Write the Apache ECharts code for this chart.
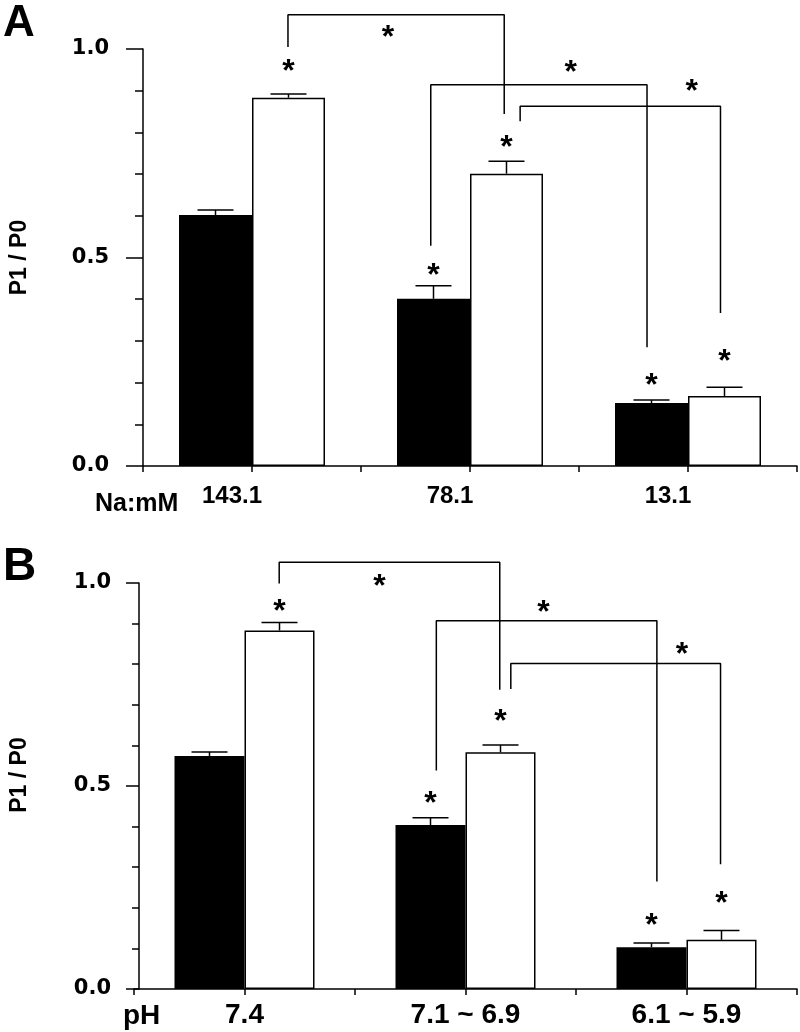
<!DOCTYPE html>
<html><head><meta charset="utf-8">
<script src="https://cdn.jsdelivr.net/npm/echarts@6/dist/echarts.min.js"></script>
<style>html,body{margin:0;padding:0;background:#fff}#c{width:800px;height:1032px}</style>
</head><body><div id="c"></div>
<script>
// ---------- data ----------
const catsA = ['143.1', '78.1', '13.1'];
const catsB = ['7.4', '7.1 ~ 6.9', '6.1 ~ 5.9'];
const xTitleA = 'Na:mM';
const xTitleB = 'pH';
const yTitle = 'P1 / P0';
const yTickLabels = ['0.0', '0.5', '1.0'];

const blackA = [0.602, 0.401, 0.151];
const blackErrA = [0.012, 0.031, 0.007];
const whiteA = [0.883, 0.701, 0.168];
const whiteErrA = [0.009, 0.030, 0.021];
const starBlackA = [null, 0.477, 0.213];
const starWhiteA = [0.964, 0.784, 0.269];

const blackB = [0.574, 0.404, 0.103];
const blackErrB = [0.010, 0.018, 0.010];
const whiteB = [0.883, 0.583, 0.121];
const whiteErrB = [0.020, 0.018, 0.023];
const starBlackB = [null, 0.476, 0.175];
const starWhiteB = [0.949, 0.678, 0.229];

// significance brackets: points in (category position, P1/P0)
const bracketsA = [
  [[0.665, 1.005], [0.665, 1.082], [1.657, 1.082], [1.657, 0.844]],
  [[1.320, 0.528], [1.320, 0.914], [2.312, 0.914], [2.312, 0.285]],
  [[1.730, 0.827], [1.730, 0.863], [2.649, 0.863], [2.649, 0.367]]
];
const bracketStarsA = [[1.124, 1.046], [1.962, 0.962], [2.517, 0.918]];
const bracketsB = [
  [[0.657, 0.999], [0.657, 1.051], [1.655, 1.051], [1.655, 0.737]],
  [[1.368, 0.538], [1.368, 0.907], [2.366, 0.907], [2.366, 0.265]],
  [[1.705, 0.739], [1.705, 0.802], [2.654, 0.802], [2.654, 0.307]]
];
const bracketStarsB = [[1.111, 1.011], [1.853, 0.947], [2.479, 0.843]];

// ---------- build ----------
const INK = '#000';
const LW = 1.5;
const STAR_SIZE = 32;
const STAR_FONT = 'bold ' + STAR_SIZE + 'px "Liberation Sans"';
const STAR_SHIFT = 0.27 * STAR_SIZE;

function panel(i, d, p) {
  const grid = { left: p.left, top: p.top, width: p.width, height: p.height };
  const xAxis = {
    gridIndex: i, type: 'value', min: 0, max: 3, interval: 0.5,
    axisLine: { show: true, onZero: false, lineStyle: { color: INK, width: LW } },
    axisTick: { show: true, length: 6, lineStyle: { color: INK, width: LW } },
    splitLine: { show: false },
    axisLabel: {
      formatter: v => { const k = v - 0.5; return Number.isInteger(k) && d.cats[k] ? d.cats[k] : ''; },
      fontFamily: 'Liberation Sans', fontWeight: 'bold', fontSize: p.catSize, color: INK,
      margin: p.catMargin, padding: p.catPad, hideOverlap: false, showMinLabel: true, showMaxLabel: true
    }
  };
  const yAxis = {
    gridIndex: i, type: 'value', min: 0, max: 1, interval: 0.5, offset: p.yOffset,
    axisLine: { show: true, lineStyle: { color: INK, width: LW } },
    axisTick: { show: true, length: p.majorLen, lineStyle: { color: INK, width: LW } },
    minorTick: { show: true, splitNumber: 5, length: p.minorLen, lineStyle: { color: INK, width: LW } },
    splitLine: { show: false }, minorSplitLine: { show: false },
    axisLabel: {
      formatter: v => yTickLabels[Math.round(v * 2)],
      fontFamily: 'DejaVu Sans', fontWeight: 'bold', fontSize: 21, color: INK,
      margin: p.labelMargin, padding: p.labelPad
    },
    name: yTitle, nameLocation: 'middle', nameRotate: 90, nameGap: p.nameGap,
    nameMoveOverlap: false,
    nameTextStyle: { fontFamily: 'Liberation Sans', fontWeight: 'bold', fontSize: 23, color: INK, padding: p.namePad }
  };
  const ax = { xAxisIndex: i, yAxisIndex: i };
  const bw = p.barWidth;
  const series = [];
  series.push(Object.assign({
    type: 'bar', data: d.black.map((v, k) => [k + 0.5, v]), barWidth: bw, barGap: '0%',
    itemStyle: { color: INK }, silent: true, z: 2
  }, ax));
  series.push(Object.assign({
    type: 'bar', data: d.white.map((v, k) => [k + 0.5, v]), barWidth: bw, barGap: '0%',
    itemStyle: { color: '#fff', borderColor: INK, borderWidth: LW }, silent: true, z: 2
  }, ax));
  function errBars(vals, errs, side) {
    return Object.assign({
      type: 'custom', silent: true, z: 3,
      data: vals.map((v, k) => [k + 0.5, v, errs[k]]),
      encode: { x: 0, y: 1 },
      renderItem: (params, api) => {
        const x = api.value(0), v = api.value(1), e = api.value(2);
        const b = api.coord([x, v]), t = api.coord([x, v + e]);
        const cx = b[0] + side * bw / 2;
        return { type: 'group', children: [
          { type: 'line', shape: { x1: cx, y1: b[1], x2: cx, y2: t[1] }, style: { stroke: INK, lineWidth: LW } },
          { type: 'line', shape: { x1: cx - 18, y1: t[1], x2: cx + 18, y2: t[1] }, style: { stroke: INK, lineWidth: LW } }
        ] };
      }
    }, ax);
  }
  series.push(errBars(d.black, d.blackErr, -1));
  series.push(errBars(d.white, d.whiteErr, 1));
  function stars(data, side) {
    return Object.assign({
      type: 'custom', silent: true, z: 4,
      data: data, encode: { x: 0, y: 1 },
      renderItem: (params, api) => {
        const c = api.coord([api.value(0), api.value(1)]);
        return { type: 'text', x: c[0] + side * bw / 2, y: c[1] + STAR_SHIFT,
          style: { text: '*', font: STAR_FONT, fill: INK, align: 'center', verticalAlign: 'middle' } };
      }
    }, ax);
  }
  series.push(stars(d.starBlack.map((v, k) => [k + 0.5, v]).filter(r => r[1] != null), -1));
  series.push(stars(d.starWhite.map((v, k) => [k + 0.5, v]).filter(r => r[1] != null), 1));
  series.push(stars(d.bracketStars, 0));
  d.brackets.forEach(b => series.push(Object.assign({
    type: 'line', data: b, clip: false, symbol: 'none', silent: true, z: 3,
    lineStyle: { color: INK, width: LW }
  }, ax)));
  return { grid, xAxis, yAxis, series };
}

const pA = panel(0, {
  cats: catsA, black: blackA, blackErr: blackErrA, white: whiteA, whiteErr: whiteErrA,
  starBlack: starBlackA, starWhite: starWhiteA, brackets: bracketsA, bracketStars: bracketStarsA
}, { left: 140, top: 49, width: 659, height: 417, yOffset: 0, majorLen: 17, minorLen: 8,
     labelMargin: 34, labelPad: [11, 0, 0, 0], nameGap: 112, namePad: [0, 0, 0, 0],
     catSize: 24, catMargin: 18, catPad: [0, 40, 0, 0], barWidth: 73 });
const pB = panel(1, {
  cats: catsB, black: blackB, blackErr: blackErrB, white: whiteB, whiteErr: whiteErrB,
  starBlack: starBlackB, starWhite: starWhiteB, brackets: bracketsB, bracketStars: bracketStarsB
}, { left: 131, top: 583, width: 667, height: 406, yOffset: -5, majorLen: 13, minorLen: 7,
     labelMargin: 28, labelPad: [2, 0, 0, 0], nameGap: 108, namePad: [0, 0, 0, 22],
     catSize: 28, catMargin: 12, catPad: [0, 0, 0, 0], barWidth: 70 });

const textStyle = (t, x, y, size) => ({
  type: 'text', x: x, y: y, silent: true,
  style: { text: t, font: 'bold ' + size + 'px "Liberation Sans"', fill: INK, align: 'left', verticalAlign: 'middle' }
});

const chart = echarts.init(document.getElementById('c'), null, { renderer: 'canvas' });
chart.setOption({
  animation: false,
  backgroundColor: '#fff',
  grid: [pA.grid, pB.grid],
  xAxis: [pA.xAxis, pB.xAxis],
  yAxis: [pA.yAxis, pB.yAxis],
  series: pA.series.concat(pB.series),
  graphic: [
    textStyle('A', 3, 24, 44),
    textStyle('B', 3, 567, 46),
    textStyle(xTitleA, 95, 504, 25),
    textStyle(xTitleB, 123, 1016, 28)
  ]
});
</script>
</body></html>
